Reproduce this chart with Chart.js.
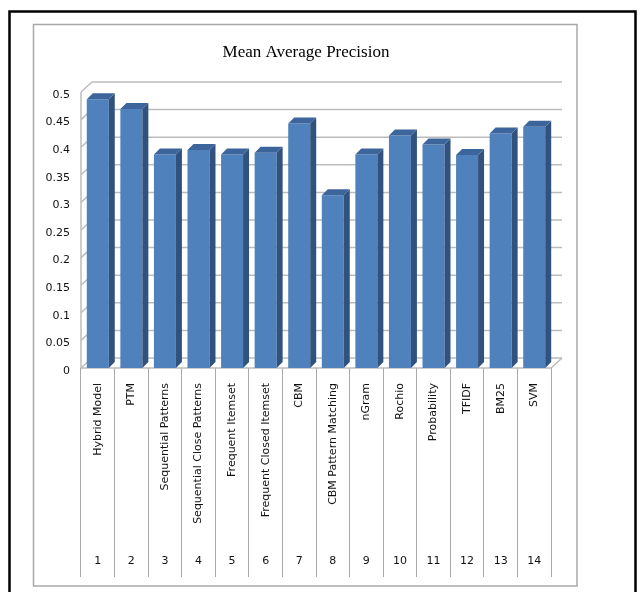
<!DOCTYPE html>
<html lang="en">
<head>
  <meta charset="UTF-8">
  <title>Mean Average Precision</title>
  <script src="https://cdn.jsdelivr.net/npm/chart.js"></script>
  <style>
    body { margin: 0; background: #fff; }
    canvas { display: block; }
  </style>
</head>
<body>
  <canvas id="mapChart" width="644" height="592"></canvas>

  <script>
    // data
    const categories = ['Hybrid Model', 'PTM', 'Sequential Patterns', 'Sequential Close Patterns',
      'Frequent Itemset', 'Frequent Closed Itemset', 'CBM', 'CBM Pattern Matching', 'nGram',
      'Rochio', 'Probability', 'TFIDF', 'BM25', 'SVM'];
    const ranks = ['1', '2', '3', '4', '5', '6', '7', '8', '9', '10', '11', '12', '13', '14'];
    const meanAvgPrecision = [0.487, 0.469, 0.387, 0.395, 0.387, 0.390, 0.443, 0.313, 0.387,
      0.421, 0.405, 0.386, 0.425, 0.437];
    const yMin = 0, yMax = 0.5, yStep = 0.05;

    // depth of the fake 3d walls and of the bars
    const WALL_DX = 11, WALL_DY = 10;
    const BAR_DX = 6, BAR_DY = 6;
    const GRID_COLOR = '#bcbcbc';

    const fake3d = {
      id: 'fake3d',
      beforeDraw(chart) {
        const c = chart.ctx;
        c.save();
        // outer black frame + grey chart frame
        c.strokeStyle = '#000';
        c.lineWidth = 2.5;
        c.strokeRect(9.5, 11.5, 626, 700);
        c.strokeStyle = '#a8a8a8';
        c.lineWidth = 1.5;
        c.strokeRect(33.5, 24.5, 543.5, 561.5);
        c.restore();
      },
      beforeDatasetsDraw(chart) {
        const c = chart.ctx;
        const { left, right } = chart.chartArea;
        const ys = chart.scales.y;
        c.save();
        c.strokeStyle = GRID_COLOR;
        c.lineWidth = 1.5;
        // back wall grid lines + left wall diagonals
        ys.ticks.forEach(t => {
          const yf = ys.getPixelForValue(t.value);
          c.beginPath();
          c.moveTo(left, yf);
          c.lineTo(left + WALL_DX, yf - WALL_DY);
          c.lineTo(right + WALL_DX, yf - WALL_DY);
          c.stroke();
        });
        // left wall front edge
        c.beginPath();
        c.moveTo(left, ys.getPixelForValue(yMin));
        c.lineTo(left, ys.getPixelForValue(yMax));
        c.stroke();
        // floor front edge and right side
        const y0 = ys.getPixelForValue(yMin);
        c.beginPath();
        c.moveTo(left, y0);
        c.lineTo(right, y0);
        c.lineTo(right + WALL_DX, y0 - WALL_DY);
        c.stroke();
        c.restore();
      },
      afterDatasetsDraw(chart) {
        const c = chart.ctx;
        c.save();
        chart.getDatasetMeta(0).data.forEach(bar => {
          const l = bar.x - bar.width / 2, r = bar.x + bar.width / 2;
          // side face
          c.fillStyle = '#31527f';
          c.beginPath();
          c.moveTo(r, bar.y);
          c.lineTo(r + BAR_DX, bar.y - BAR_DY);
          c.lineTo(r + BAR_DX, bar.base - BAR_DY);
          c.lineTo(r, bar.base);
          c.closePath();
          c.fill();
          // top face
          c.fillStyle = '#3c659c';
          c.beginPath();
          c.moveTo(l, bar.y);
          c.lineTo(l + BAR_DX, bar.y - BAR_DY);
          c.lineTo(r + BAR_DX, bar.y - BAR_DY);
          c.lineTo(r, bar.y);
          c.closePath();
          c.fill();
        });
        c.restore();
      }
    };

    const ctx = document.getElementById('mapChart').getContext('2d');
    const mapChart = new Chart(ctx, {
      type: 'bar',
      data: {
        labels: categories,
        datasets: [{
          label: 'Mean Average Precision',
          data: meanAvgPrecision,
          backgroundColor: '#4f81bd',
          borderWidth: 0,
          barPercentage: 0.655,
          categoryPercentage: 1
        }]
      },
      options: {
        responsive: false,
        animation: false,
        devicePixelRatio: 1,
        layout: { padding: { left: 30, right: 62, top: 20, bottom: 15 } },
        plugins: {
          legend: { display: false },
          tooltip: { enabled: false },
          title: {
            display: true,
            text: 'Mean Average Precision',
            color: '#000',
            font: { family: 'Liberation Serif', size: 17, weight: 'normal' },
            padding: { top: 22.8, bottom: 28.8 }
          }
        },
        scales: {
          x: {
            position: 'bottom',
            grid: {
              display: true,
              drawOnChartArea: false,
              drawTicks: true,
              tickLength: 209,
              offset: true,
              color: '#a8a8a8',
              lineWidth: 1
            },
            border: { display: false },
            ticks: {
              autoSkip: false,
              minRotation: 90,
              maxRotation: 90,
              padding: -194,
              color: '#111',
              font: { family: 'DejaVu Sans', size: 11 }
            },
            afterFit(scale) { scale.height = 180; }
          },
          xn: {
            type: 'category',
            position: 'bottom',
            labels: ranks,
            offset: true,
            grid: { display: false, drawTicks: false },
            border: { display: false },
            ticks: {
              autoSkip: false,
              maxRotation: 0,
              padding: 7,
              color: '#111',
              font: { family: 'DejaVu Sans', size: 11 }
            },
            afterFit(scale) { scale.height = 29; }
          },
          y: {
            min: yMin,
            max: yMax,
            grid: { display: false, drawTicks: false },
            border: { display: false },
            ticks: {
              stepSize: yStep,
              padding: 11,
              labelOffset: 3,
              color: '#111',
              font: { family: 'DejaVu Sans', size: 11 },
              callback: v => String(+v.toFixed(2))
            },
            afterFit(scale) { scale.width = 51; }
          },
          yr: {
            type: 'linear',
            position: 'right',
            grid: { display: false, drawTicks: false },
            border: { display: false },
            ticks: { display: false },
            afterFit(scale) { scale.width = 31; }
          }
        }
      },
      plugins: [fake3d]
    });
  </script>
</body>
</html>
